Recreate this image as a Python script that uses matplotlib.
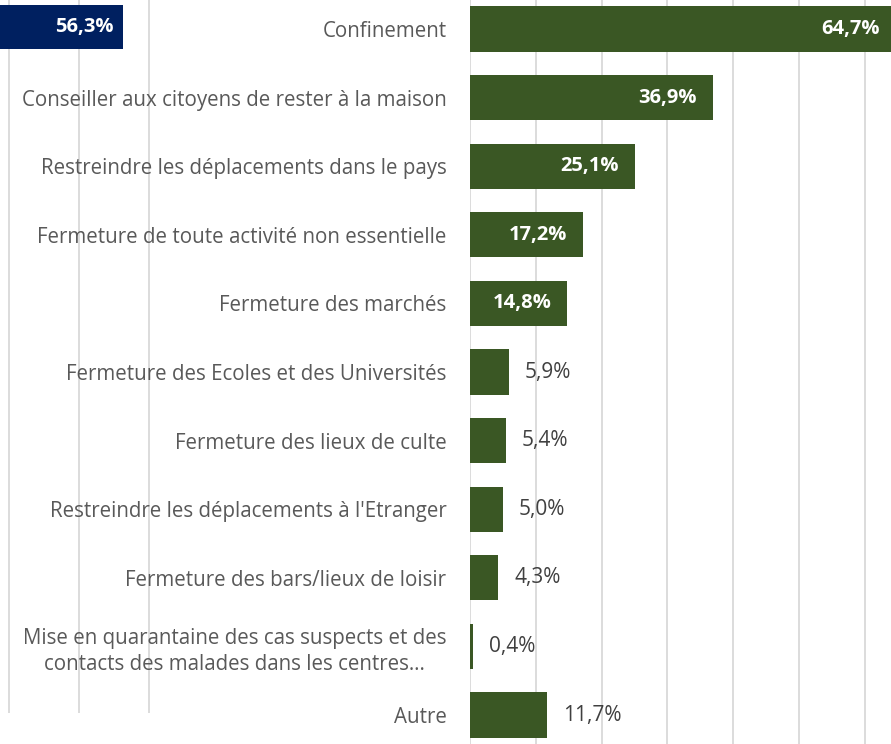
import matplotlib
matplotlib.use("Agg")
import matplotlib.pyplot as plt

categories = [
    "Confinement",
    "Conseiller aux citoyens de rester à la maison",
    "Restreindre les déplacements dans le pays",
    "Fermeture de toute activité non essentielle",
    "Fermeture des marchés",
    "Fermeture des Ecoles et des Universités",
    "Fermeture des lieux de culte",
    "Restreindre les déplacements à l'Etranger",
    "Fermeture des bars/lieux de loisir",
    "Mise en quarantaine des cas suspects et des\ncontacts des malades dans les centres…",
    "Autre",
]
values = [64.7, 36.9, 25.1, 17.2, 14.8, 5.9, 5.4, 5.0, 4.3, 0.4, 11.7]

left_categories = ["Confinement"]
left_values = [56.3]

GREEN = "#3a5724"
BLUE = "#002060"
GRID = "#d9d9d9"
LABEL = "#595959"
VAL = "#404040"
FONT = "Open Sans"
FS_CAT = 14.8
FS_IN = 14.5
FS_OUT = 15.0

W, H = 891, 744
fig = plt.figure(figsize=(W / 100, H / 100), dpi=100)

def px_axes(x0, y0_top, x1, y1_top, z):
    a = fig.add_axes([x0 / W, 1 - y1_top / H, (x1 - x0) / W, (y1_top - y0_top) / H], zorder=z)
    a.patch.set_visible(False)
    return a

step = 68.6

# left panel (partial view of companion chart)
lpx = 7.0
lx0 = 40 - 9 / lpx
ax2 = px_axes(0, 0, 156, 713, 1)
ax2.set_xlim(lx0, lx0 + 156 / lpx)
ltop = -27 / step
ax2.set_ylim(ltop + 713 / step, ltop)
ax2.barh(range(len(left_values)), left_values, height=0.64, color=BLUE, zorder=2)
ax2.set_xticks([40, 50, 60])
ax2.xaxis.grid(True, color=GRID, lw=1.3, zorder=0)
ax2.tick_params(length=0, labelbottom=False, labelleft=False)
for s in ax2.spines.values():
    s.set_visible(False)
for i, v in enumerate(left_values):
    txt = f"{v:.1f}%".replace(".", ",")
    ax2.annotate(txt, (v, i), xytext=(-10, 0), textcoords="offset pixels",
                 ha="right", va="center", color="white", fontweight="bold",
                 fontsize=FS_IN, family=FONT, zorder=3)

# right panel
pxpp = 6.577
ax = px_axes(470, 0, 470 + 70 * pxpp, H, 2)
ax.set_xlim(0, 70)
top = -29 / step
ax.set_ylim(top + H / step, top)
y = list(range(len(categories)))
ax.barh(y, values, height=0.656, color=GREEN, zorder=2)
ax.set_xticks(range(0, 71, 10))
ax.xaxis.grid(True, color=GRID, lw=1.3, zorder=0)
ax.tick_params(axis="x", length=0, labelbottom=False)
ax.set_yticks(y)
ax.set_yticklabels(categories, fontsize=FS_CAT, color=LABEL, family=FONT)
ax.tick_params(axis="y", length=0, pad=17)
for lbl in ax.get_yticklabels():
    lbl.set_multialignment("center")
    lbl.set_linespacing(1.3)
for s in ax.spines.values():
    s.set_visible(False)
for i, v in enumerate(values):
    txt = f"{v:.1f}%".replace(".", ",")
    if v >= 14:
        ax.annotate(txt, (v, i), xytext=(-16, 0), textcoords="offset pixels",
                    ha="right", va="center", color="white", fontweight="bold",
                    fontsize=FS_IN, family=FONT, zorder=3)
    else:
        ax.annotate(txt, (v, i), xytext=(16, 0), textcoords="offset pixels",
                    ha="left", va="center", color=VAL,
                    fontsize=FS_OUT, family=FONT, zorder=3)

fig.savefig("out.png", dpi=100)
